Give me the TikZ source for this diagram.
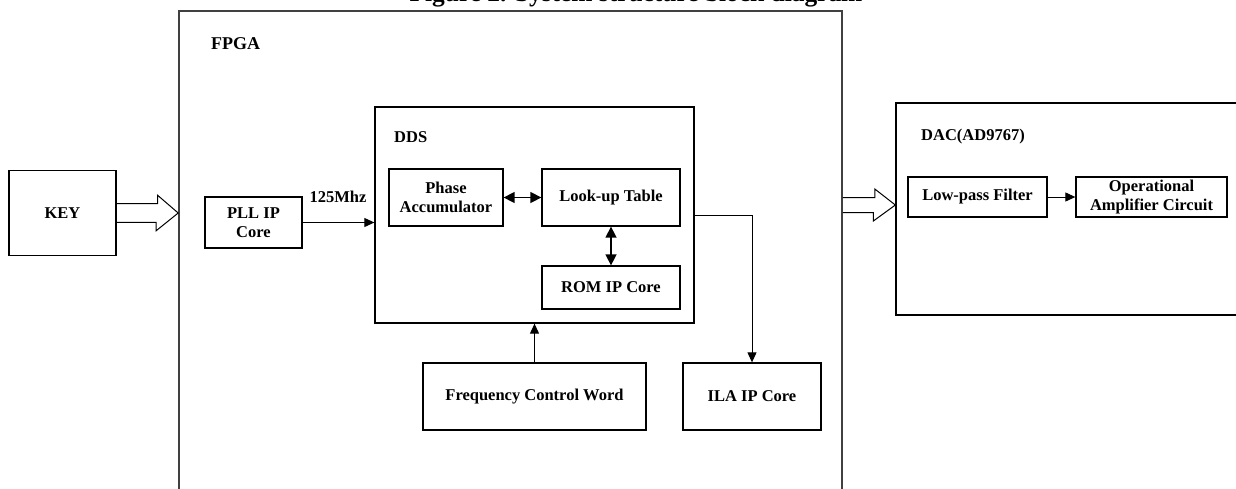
\documentclass[tikz,border=0pt]{standalone}
\usepackage{fontspec}
\setmainfont{Liberation Serif}
\usetikzlibrary{arrows.meta,calc}

\tikzset{
   blk/.style={draw, line width=1.3pt, inner sep=0pt, align=center},
   frame/.style={draw=black!75, line width=1.6pt, inner sep=0pt},
   lbl/.style={inner sep=0pt},
   arr/.style={line width=1pt, -{Triangle[length=10pt,width=9pt]}},
   dbl/.style={line width=1.5pt, {Triangle[length=11pt,width=11pt]}-{Triangle[length=11pt,width=11pt]}},
   hollow/.style={draw, line width=1pt}
}

\begin{document}
\begin{tikzpicture}[x=1pt,y=-1pt,font=\fontsize{16.5}{19.4}\selectfont\bfseries]
   \useasboundingbox (0,0) rectangle (1236,488);

   \node[lbl,anchor=base,font=\fontsize{25.4}{30}\selectfont\bfseries] (title) at (636,1.5) {Figure 2. System structure block diagram};

   \node[frame, minimum width=663, minimum height=489] (fpga) at (510.5,255.5) {};
   \node[lbl, anchor=base west, font=\fontsize{18}{21}\selectfont\bfseries] (fpgalbl) at (211,49) {FPGA};

   \node[blk, minimum width=107, minimum height=85] (key) at (62.5,213) {KEY};
   \node[blk, minimum width=97, minimum height=51] (pll) at (253.5,222.5) {PLL IP\\Core};
   \node[lbl, anchor=base] (clk) at (338,202) {125Mhz};

   \node[blk, minimum width=319, minimum height=216] (dds) at (534.5,215) {};
   \node[lbl, anchor=base west] (ddslbl) at (394,142) {DDS};
   \node[blk, minimum width=114, minimum height=57] (phase) at (446,197.5) {Phase\\Accumulator};
   \node[blk, minimum width=138, minimum height=57] (lut) at (611,197.5) {Look-up Table};
   \node[blk, minimum width=138, minimum height=43] (rom) at (611,287.5) {ROM IP Core};

   \node[blk, minimum width=223, minimum height=67] (fcw) at (534.5,396.5) {Frequency Control Word};
   \node[blk, minimum width=138, minimum height=67] (ila) at (752,396.5) {ILA IP Core};

   \node[blk, minimum width=360, minimum height=212] (dac) at (1076,209) {};
   \node[lbl, anchor=base west] (daclbl) at (921,140.5) {DAC(AD9767)};
   \node[blk, minimum width=139, minimum height=40] (lpf) at (977.5,197) {Low-pass Filter};
   \node[blk, minimum width=151, minimum height=40] (opamp) at (1151.5,197) {Operational\\Amplifier Circuit};

   \draw[arr] (pll.east) -- (pll.east -| dds.west);
   \draw[dbl] (phase) -- (lut);
   \draw[dbl] (lut) -- (rom);
   \draw[arr] (fcw) -- (dds);
   \draw[arr] (dds.east) -| (ila.north);
   \draw[arr] (lpf) -- (opamp);

   \draw[hollow] ($(key.east)+(0,-9.3)$) -- ++(41,0) -- ++(0,-8.4) -- (fpga.west |- key.east)
      -- ++(-22,17.7) -- ++(0,-8.4) -- ($(key.east)+(0,9.3)$);

   \coordinate (dactip) at ($(dac.west)+(0,-4)$);
   \draw[hollow] ($(fpga.east |- dactip)+(0,-7.5)$) -- ++(32,0) -- ++(0,-8.5) -- (dactip)
      -- ++(-22,16) -- ++(0,-8.5) -- ($(fpga.east |- dactip)+(0,7.5)$);
\end{tikzpicture}
\end{document}
